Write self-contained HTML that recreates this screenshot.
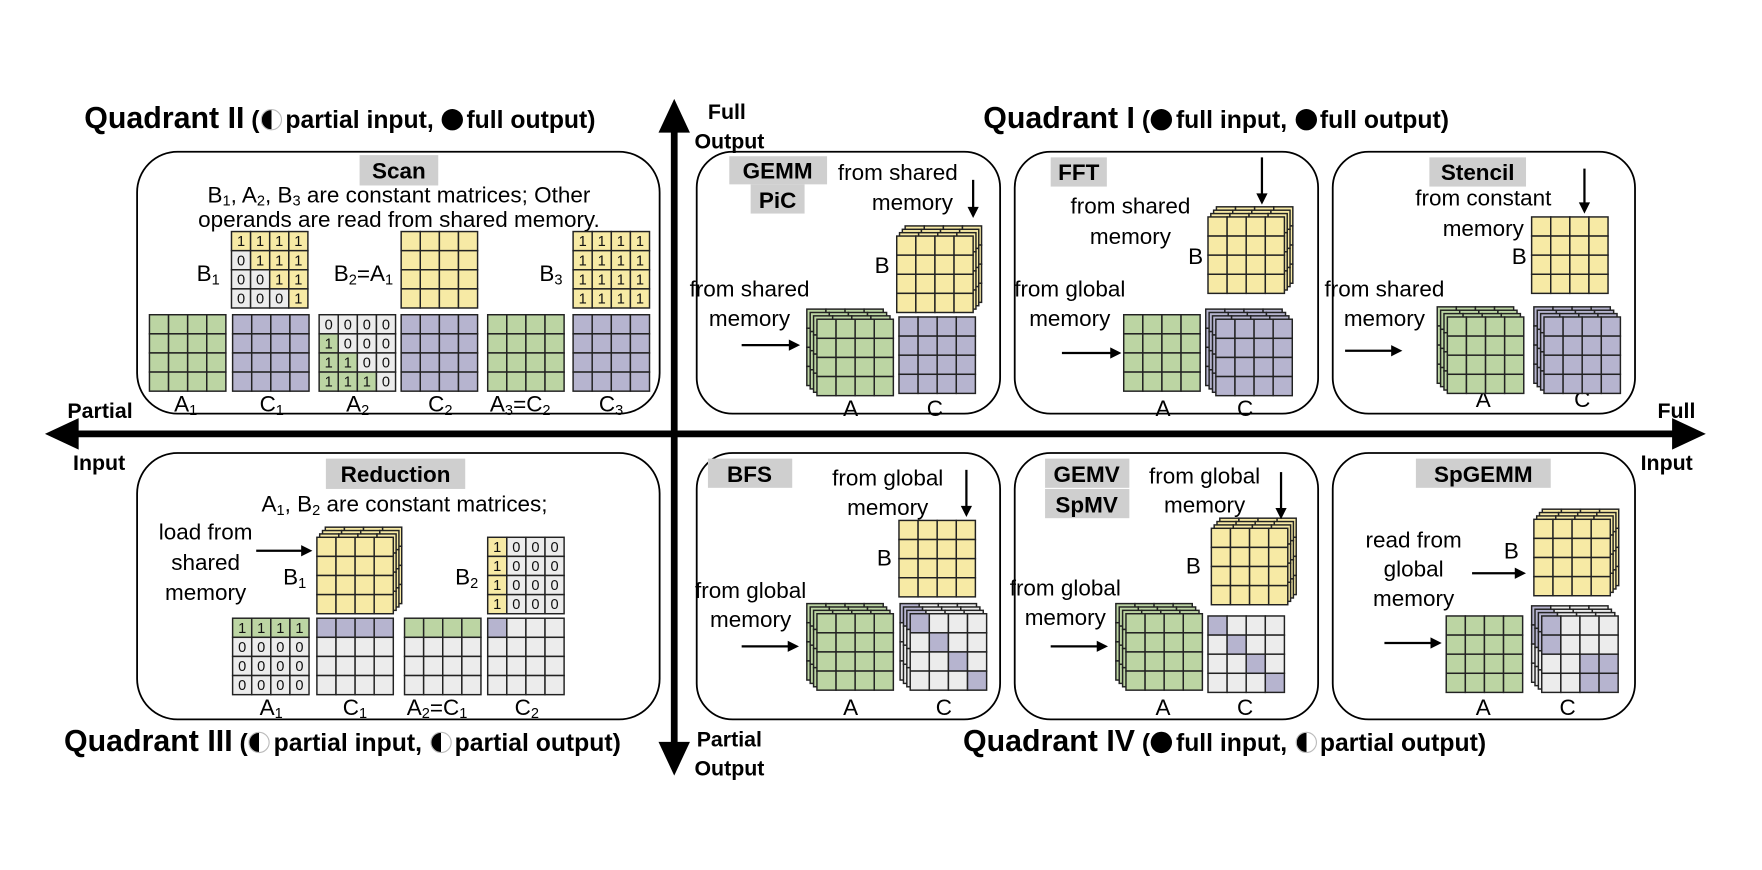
<!DOCTYPE html>
<html><head><meta charset="utf-8">
<style>
html,body{margin:0;padding:0;background:#fff;width:1762px;height:870px;overflow:hidden}
#wrap{position:absolute;left:0;top:0;width:1568px;height:774px;transform:scale(1.12372,1.12403);transform-origin:0 0;font-family:"Liberation Sans",Arial,sans-serif}
svg{position:absolute;left:0;top:0}
.t{position:absolute;font-weight:bold;white-space:nowrap;color:#000;line-height:1}
.t b{font-size:27px}
.t span.s{font-size:22px}
.h,.f{display:inline-block;width:19px;height:19px;border-radius:50%;vertical-align:-2px;margin:0 3px 0 1px;box-sizing:border-box}
.h{border:1px solid #bbb;background:linear-gradient(to right,#000 50%,#fff 50%)}
.f{background:#000}
</style></head><body>
<div id="wrap">
<svg id="g" width="1568" height="774" viewBox="0 0 1568 774" font-family="Liberation Sans, Arial, sans-serif">
<g fill="none" stroke="#000" stroke-width="1.6">
<rect x="122" y="135" width="465" height="233" rx="36"/>
<rect x="122" y="403" width="465" height="237" rx="36"/>
<rect x="620" y="135" width="270" height="233" rx="32"/>
<rect x="903" y="135" width="270" height="233" rx="32"/>
<rect x="1186" y="135" width="269" height="233" rx="32"/>
<rect x="620" y="403" width="270" height="237" rx="32"/>
<rect x="903" y="403" width="270" height="237" rx="32"/>
<rect x="1186" y="403" width="269" height="237" rx="32"/>
</g>
<rect x="66" y="383" width="1425" height="6" fill="#000"/>
<polygon points="40,386 70,372 70,400" fill="#000"/>
<polygon points="1518,386 1488,372 1488,400" fill="#000"/>
<rect x="597" y="114" width="6" height="550" fill="#000"/>
<polygon points="600,88 586,118 614,118" fill="#000"/>
<polygon points="600,690 586,660 614,660" fill="#000"/>
<g fill="#cfcfcf">
<rect x="320" y="138" width="70" height="27"/>
<rect x="290" y="408" width="124" height="27"/>
<rect x="649" y="139" width="87" height="25"/>
<rect x="668" y="164" width="48" height="26"/>
<rect x="935" y="140" width="50" height="26"/>
<rect x="1272" y="140" width="86" height="26"/>
<rect x="630" y="408" width="75" height="26"/>
<rect x="930" y="408" width="75" height="26"/>
<rect x="930" y="435" width="75" height="26"/>
<rect x="1260" y="408" width="120" height="26"/>
</g>
<g font-weight="bold" font-size="20" text-anchor="middle">
<text x="355" y="159">Scan</text>
<text x="352" y="429">Reduction</text>
<text x="692" y="159">GEMM</text>
<text x="692" y="185">PiC</text>
<text x="960" y="160">FFT</text>
<text x="1315" y="160">Stencil</text>
<text x="667" y="429">BFS</text>
<text x="967" y="429">GEMV</text>
<text x="967" y="456">SpMV</text>
<text x="1320" y="429">SpGEMM</text>
</g>
<g font-weight="bold" font-size="19">
<text x="630" y="106">Full</text>
<text x="618" y="132">Output</text>
<text x="60" y="372">Partial</text>
<text x="65" y="418">Input</text>
<text x="1475" y="372">Full</text>
<text x="1460" y="418">Input</text>
<text x="620" y="664">Partial</text>
<text x="618" y="690">Output</text>
</g>
<g font-size="20" text-anchor="middle">
<text x="355" y="180">B<tspan font-size="13" dy="3">1</tspan><tspan dy="-3">, A</tspan><tspan font-size="13" dy="3">2</tspan><tspan dy="-3">, B</tspan><tspan font-size="13" dy="3">3</tspan><tspan dy="-3"> are constant matrices; Other</tspan></text>
<text x="355" y="202">operands are read from shared memory.</text>
<text x="360" y="455">A<tspan font-size="13" dy="3">1</tspan><tspan dy="-3">, B</tspan><tspan font-size="13" dy="3">2</tspan><tspan dy="-3"> are constant matrices;</tspan></text>
</g>
<g font-size="20">
<text x="175" y="250">B<tspan font-size="13" dy="3">1</tspan></text>
<text x="297" y="250">B<tspan font-size="13" dy="3">2</tspan><tspan dy="-3">=A</tspan><tspan font-size="13" dy="3">1</tspan></text>
<text x="480" y="250">B<tspan font-size="13" dy="3">3</tspan></text>
<text x="155" y="366">A<tspan font-size="13" dy="3">1</tspan></text>
<text x="231" y="366">C<tspan font-size="13" dy="3">1</tspan></text>
<text x="308" y="366">A<tspan font-size="13" dy="3">2</tspan></text>
<text x="381" y="366">C<tspan font-size="13" dy="3">2</tspan></text>
<text x="436" y="366">A<tspan font-size="13" dy="3">3</tspan><tspan dy="-3">=C</tspan><tspan font-size="13" dy="3">2</tspan></text>
<text x="533" y="366">C<tspan font-size="13" dy="3">3</tspan></text>
<text x="252" y="520">B<tspan font-size="13" dy="3">1</tspan></text>
<text x="405" y="520">B<tspan font-size="13" dy="3">2</tspan></text>
<text x="231" y="636">A<tspan font-size="13" dy="3">1</tspan></text>
<text x="305" y="636">C<tspan font-size="13" dy="3">1</tspan></text>
<text x="362" y="636">A<tspan font-size="13" dy="3">2</tspan><tspan dy="-3">=C</tspan><tspan font-size="13" dy="3">1</tspan></text>
<text x="458" y="636">C<tspan font-size="13" dy="3">2</tspan></text>
</g>
<g font-size="20" text-anchor="middle">
<text x="183" y="480">load from</text>
<text x="183" y="507">shared</text>
<text x="183" y="534">memory</text>
<text x="799" y="160">from shared</text>
<text x="812" y="187">memory</text>
<text x="785" y="243">B</text>
<text x="667" y="264">from shared</text>
<text x="667" y="290">memory</text>
<text x="757" y="370">A</text>
<text x="832" y="370">C</text>
<text x="1006" y="190">from shared</text>
<text x="1006" y="217">memory</text>
<text x="1064" y="235">B</text>
<text x="952" y="264">from global</text>
<text x="952" y="290">memory</text>
<text x="1035" y="370">A</text>
<text x="1108" y="370">C</text>
<text x="1320" y="183">from constant</text>
<text x="1320" y="210">memory</text>
<text x="1352" y="235">B</text>
<text x="1232" y="264">from shared</text>
<text x="1232" y="290">memory</text>
<text x="1320" y="362">A</text>
<text x="1408" y="362">C</text>
<text x="790" y="432">from global</text>
<text x="790" y="458">memory</text>
<text x="787" y="503">B</text>
<text x="668" y="532">from global</text>
<text x="668" y="558">memory</text>
<text x="757" y="636">A</text>
<text x="840" y="636">C</text>
<text x="1072" y="430">from global</text>
<text x="1072" y="456">memory</text>
<text x="1062" y="510">B</text>
<text x="948" y="530">from global</text>
<text x="948" y="556">memory</text>
<text x="1035" y="636">A</text>
<text x="1108" y="636">C</text>
<text x="1258" y="487">read from</text>
<text x="1258" y="513">global</text>
<text x="1258" y="539">memory</text>
<text x="1345" y="497">B</text>
<text x="1320" y="636">A</text>
<text x="1395" y="636">C</text>
</g>
<g id="shapes"></g>
<g stroke="#000" stroke-width="2" fill="#000">
<line x1="228" y1="490" x2="270" y2="490"/><polygon points="278,490 268,485 268,495" stroke="none"/>
<line x1="866" y1="160" x2="866" y2="186"/><polygon points="866,194 861,184 871,184" stroke="none"/>
<line x1="660" y1="307" x2="704" y2="307"/><polygon points="712,307 702,302 702,312" stroke="none"/>
<line x1="1123" y1="140" x2="1123" y2="174"/><polygon points="1123,182 1118,172 1128,172" stroke="none"/>
<line x1="945" y1="314" x2="990" y2="314"/><polygon points="998,314 988,309 988,319" stroke="none"/>
<line x1="1410" y1="150" x2="1410" y2="182"/><polygon points="1410,190 1405,180 1415,180" stroke="none"/>
<line x1="1197" y1="312" x2="1240" y2="312"/><polygon points="1248,312 1238,307 1238,317" stroke="none"/>
<line x1="860" y1="418" x2="860" y2="452"/><polygon points="860,460 855,450 865,450" stroke="none"/>
<line x1="660" y1="575" x2="703" y2="575"/><polygon points="711,575 701,570 701,580" stroke="none"/>
<line x1="1140" y1="420" x2="1140" y2="454"/><polygon points="1140,462 1135,452 1145,452" stroke="none"/>
<line x1="935" y1="575" x2="978" y2="575"/><polygon points="986,575 976,570 976,580" stroke="none"/>
<line x1="1310" y1="510" x2="1350" y2="510"/><polygon points="1358,510 1348,505 1348,515" stroke="none"/>
<line x1="1232" y1="572" x2="1275" y2="572"/><polygon points="1283,572 1273,567 1273,577" stroke="none"/>
</g>
</svg>
<div class="t" style="left:75px;top:92px"><b>Quadrant II</b><span class="s"> (<i class="h"></i>partial input, <i class="f"></i>full output)</span></div>
<div class="t" style="left:875px;top:92px"><b>Quadrant I</b><span class="s"> (<i class="f"></i>full input, <i class="f"></i>full output)</span></div>
<div class="t" style="left:57px;top:646px"><b>Quadrant III</b><span class="s"> (<i class="h"></i>partial input, <i class="h"></i>partial output)</span></div>
<div class="t" style="left:857px;top:646px"><b>Quadrant IV</b><span class="s"> (<i class="f"></i>full input, <i class="h"></i>partial output)</span></div>
</div>
<script>
var NS="http://www.w3.org/2000/svg",G=document.getElementById("shapes");
var Y="#f7eaa5",Gr="#bcd5a3",P="#b6b4cf",W="#ececec",S=17;
function el(n,a,p){var e=document.createElementNS(NS,n);for(var k in a)e.setAttribute(k,a[k]);(p||G).appendChild(e);return e;}
function grid(x,y,f,t){for(var r=0;r<4;r++)for(var c=0;c<4;c++){el("rect",{x:x+c*S,y:y+r*S,width:S,height:S,fill:f(r,c),stroke:"#222","stroke-width":1.3});
if(t){var e=el("text",{x:x+c*S+S/2,y:y+r*S+13,"font-size":13,"text-anchor":"middle",fill:"#111"});e.textContent=t(r,c);}}}
function stack(x,y,f,dx,dy){for(var k=3;k>=0;k--)grid(x+k*dx,y+k*dy,f);}
function C(c){return function(){return c;};}
grid(206,206,function(r,c){return c>=r?Y:W;},function(r,c){return c>=r?1:0;});
grid(357,206,C(Y));
grid(510,206,C(Y),function(){return 1;});
grid(133,280,C(Gr));grid(207,280,C(P));
grid(284,280,function(r,c){return c<r?Gr:W;},function(r,c){return c<r?1:0;});
grid(357,280,C(P));grid(434,280,C(Gr));grid(510,280,C(P));
stack(282,478,C(Y),2.5,-3);
grid(434,478,function(r,c){return c==0?Y:W;},function(r,c){return c==0?1:0;});
grid(207,550,function(r,c){return r==0?Gr:W;},function(r,c){return r==0?1:0;});
grid(282,550,function(r,c){return r==0?P:W;});
grid(360,550,function(r,c){return r==0?Gr:W;});
grid(434,550,function(r,c){return r==0&&c==0?P:W;});
var D=function(r,c){return r==c?P:W;};
stack(798,210,C(Y),2.5,-3);stack(727,284,C(Gr),-3,-3);grid(800,282,C(P));
stack(1075,193,C(Y),2.5,-3);grid(1000,280,C(Gr));stack(1082,284,C(P),-3,-3);
grid(1363,193,C(Y));stack(1288,282,C(Gr),-3,-3);stack(1374,282,C(P),-3,-3);
grid(800,463,C(Y));stack(727,546,C(Gr),-3,-3);stack(810,546,D,-3,-3);
stack(1078,470,C(Y),2.5,-3);stack(1002,546,C(Gr),-3,-3);grid(1075,548,D);
stack(1365,462,C(Y),2.5,-3);grid(1287,548,C(Gr));
stack(1372,548,function(r,c){return (c==0&&r<2)||(r>=2&&c>=2)?P:W;},-3,-3);
</script>
</body></html>
